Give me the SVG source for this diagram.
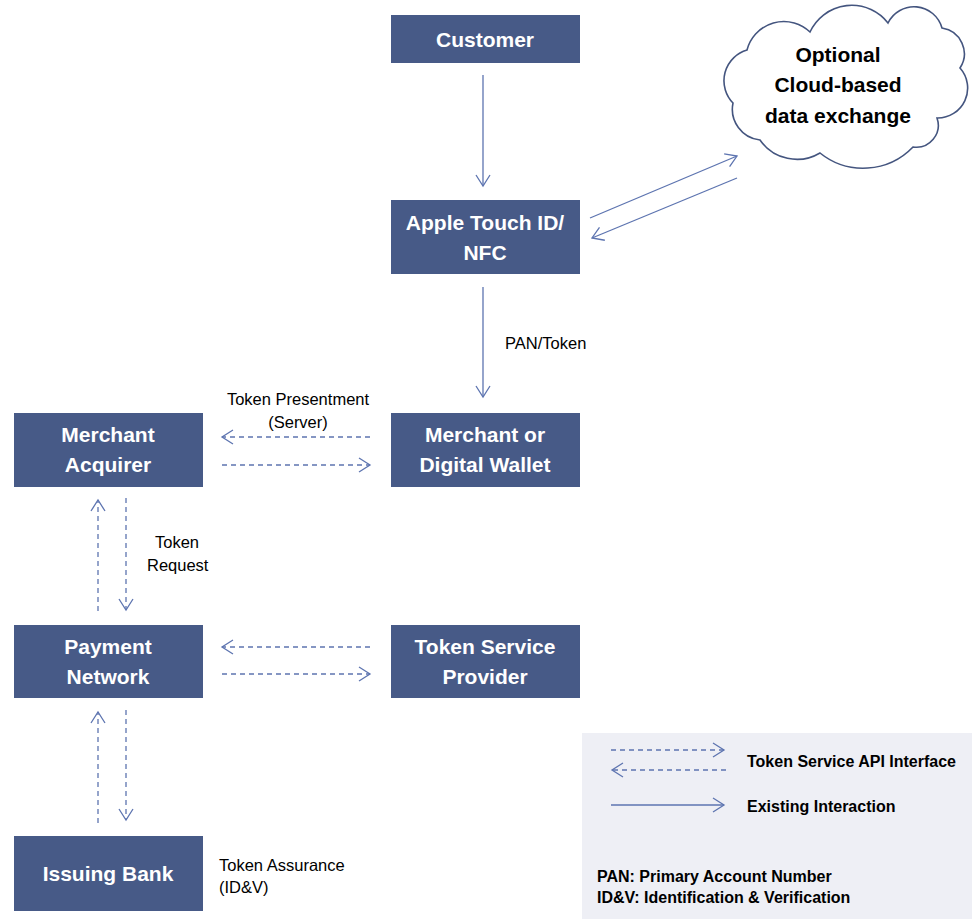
<svg xmlns="http://www.w3.org/2000/svg" width="972" height="919" viewBox="0 0 972 919">
  <style>
    .box { fill: #475A87; }
    .boxtxt { font-family: "Liberation Sans", Arial, sans-serif; font-weight: bold; font-size: 21px; fill: #FFFFFF; text-anchor: middle; }
    .lbl { font-family: "Liberation Sans", Arial, sans-serif; font-size: 16.5px; fill: #000000; }
    .leg { font-family: "Liberation Sans", Arial, sans-serif; font-weight: bold; font-size: 16px; fill: #000000; }
    .solid { stroke: #5D74B0; stroke-width: 1.3; fill: none; marker-end: url(#head); }
    .dash { stroke: #5D74B0; stroke-width: 1.3; fill: none; stroke-dasharray: 5 4; marker-end: url(#head); }
  </style>
  <defs>
    <marker id="head" markerUnits="userSpaceOnUse" markerWidth="16" markerHeight="18" refX="12" refY="8" orient="auto">
      <path d="M1,1 L12,8 L1,15" fill="none" stroke="#5D74B0" stroke-width="1.3"/>
    </marker>
  </defs>

  <rect width="972" height="919" fill="#FFFFFF"/>

  <!-- legend panel -->
  <g id="legend">
    <rect x="582" y="733" width="390" height="186" fill="#EEEFF5"/>
    <line class="dash" x1="611" y1="750" x2="724" y2="750"/>
    <line class="dash" x1="726" y1="770" x2="612" y2="770"/>
    <line class="solid" x1="611" y1="805" x2="724" y2="805"/>
    <text class="leg" x="747" y="767">Token Service API Interface</text>
    <text class="leg" x="747" y="812">Existing Interaction</text>
    <text class="leg" x="597" y="882">PAN: Primary Account Number</text>
    <text class="leg" x="597" y="903">ID&amp;V: Identification &amp; Verification</text>
  </g>

  <!-- connectors -->
  <g id="connectors">
    <line class="solid" x1="483" y1="75" x2="483" y2="186"/>
    <line class="solid" x1="483" y1="287" x2="483" y2="397"/>
    <line class="solid" x1="590" y1="218" x2="737" y2="156"/>
    <line class="solid" x1="737" y1="178" x2="592" y2="238"/>
    <line class="dash" x1="370" y1="437" x2="222" y2="437"/>
    <line class="dash" x1="222" y1="465" x2="370" y2="465"/>
    <line class="dash" x1="98" y1="611" x2="98" y2="500"/>
    <line class="dash" x1="126" y1="498" x2="126" y2="610"/>
    <line class="dash" x1="370" y1="647" x2="222" y2="647"/>
    <line class="dash" x1="222" y1="674" x2="370" y2="674"/>
    <line class="dash" x1="98" y1="823" x2="98" y2="712"/>
    <line class="dash" x1="126" y1="710" x2="126" y2="820"/>
    <text class="lbl" x="505" y="349">PAN/Token</text>
    <text class="lbl" x="298" y="405" text-anchor="middle">Token Presentment</text>
    <text class="lbl" x="298" y="428" text-anchor="middle">(Server)</text>
    <text class="lbl" x="155" y="548">Token</text>
    <text class="lbl" x="147" y="571">Request</text>
    <text class="lbl" x="219" y="871">Token Assurance</text>
    <text class="lbl" x="219" y="893">(ID&amp;V)</text>
  </g>

  <g id="customer">
    <rect class="box" x="391" y="15" width="189" height="48"/>
    <text class="boxtxt" x="485" y="47">Customer</text>
  </g>

  <g id="apple-touch-id">
    <rect class="box" x="391" y="200" width="189" height="74"/>
    <text class="boxtxt" x="485" y="230">Apple Touch ID/</text>
    <text class="boxtxt" x="485" y="260">NFC</text>
  </g>

  <g id="merchant-wallet">
    <rect class="box" x="391" y="413" width="189" height="74"/>
    <text class="boxtxt" x="485" y="442">Merchant or</text>
    <text class="boxtxt" x="485" y="472">Digital Wallet</text>
  </g>

  <g id="merchant-acquirer">
    <rect class="box" x="14" y="413" width="189" height="74"/>
    <text class="boxtxt" x="108" y="442">Merchant</text>
    <text class="boxtxt" x="108" y="472">Acquirer</text>
  </g>

  <g id="payment-network">
    <rect class="box" x="14" y="625" width="189" height="73"/>
    <text class="boxtxt" x="108" y="654">Payment</text>
    <text class="boxtxt" x="108" y="684">Network</text>
  </g>

  <g id="token-service-provider">
    <rect class="box" x="391" y="625" width="189" height="73"/>
    <text class="boxtxt" x="485" y="654">Token Service</text>
    <text class="boxtxt" x="485" y="684">Provider</text>
  </g>

  <g id="issuing-bank">
    <rect class="box" x="14" y="836" width="189" height="75"/>
    <text class="boxtxt" x="108" y="881">Issuing Bank</text>
  </g>

  <g id="cloud">
    <path d="M733,103 A32,32 0 0 1 747,50 A38,38 0 0 1 810,32 A46,46 0 0 1 888,23 A29,29 0 0 1 942,28 A26,26 0 0 1 960,68 A30,30 0 0 1 937,118 A22,22 0 0 1 913,147 A69,69 0 0 1 820,153 A45,45 0 0 1 760,140 A31,31 0 0 1 733,103 Z" fill="#FFFFFF" stroke="#44557F" stroke-width="1.6"/>
    <text x="838" y="62" font-family="'Liberation Sans', Arial, sans-serif" font-weight="bold" font-size="21" text-anchor="middle">Optional</text>
    <text x="838" y="92" font-family="'Liberation Sans', Arial, sans-serif" font-weight="bold" font-size="21" text-anchor="middle">Cloud-based</text>
    <text x="838" y="123" font-family="'Liberation Sans', Arial, sans-serif" font-weight="bold" font-size="21" text-anchor="middle">data exchange</text>
  </g>
</svg>
